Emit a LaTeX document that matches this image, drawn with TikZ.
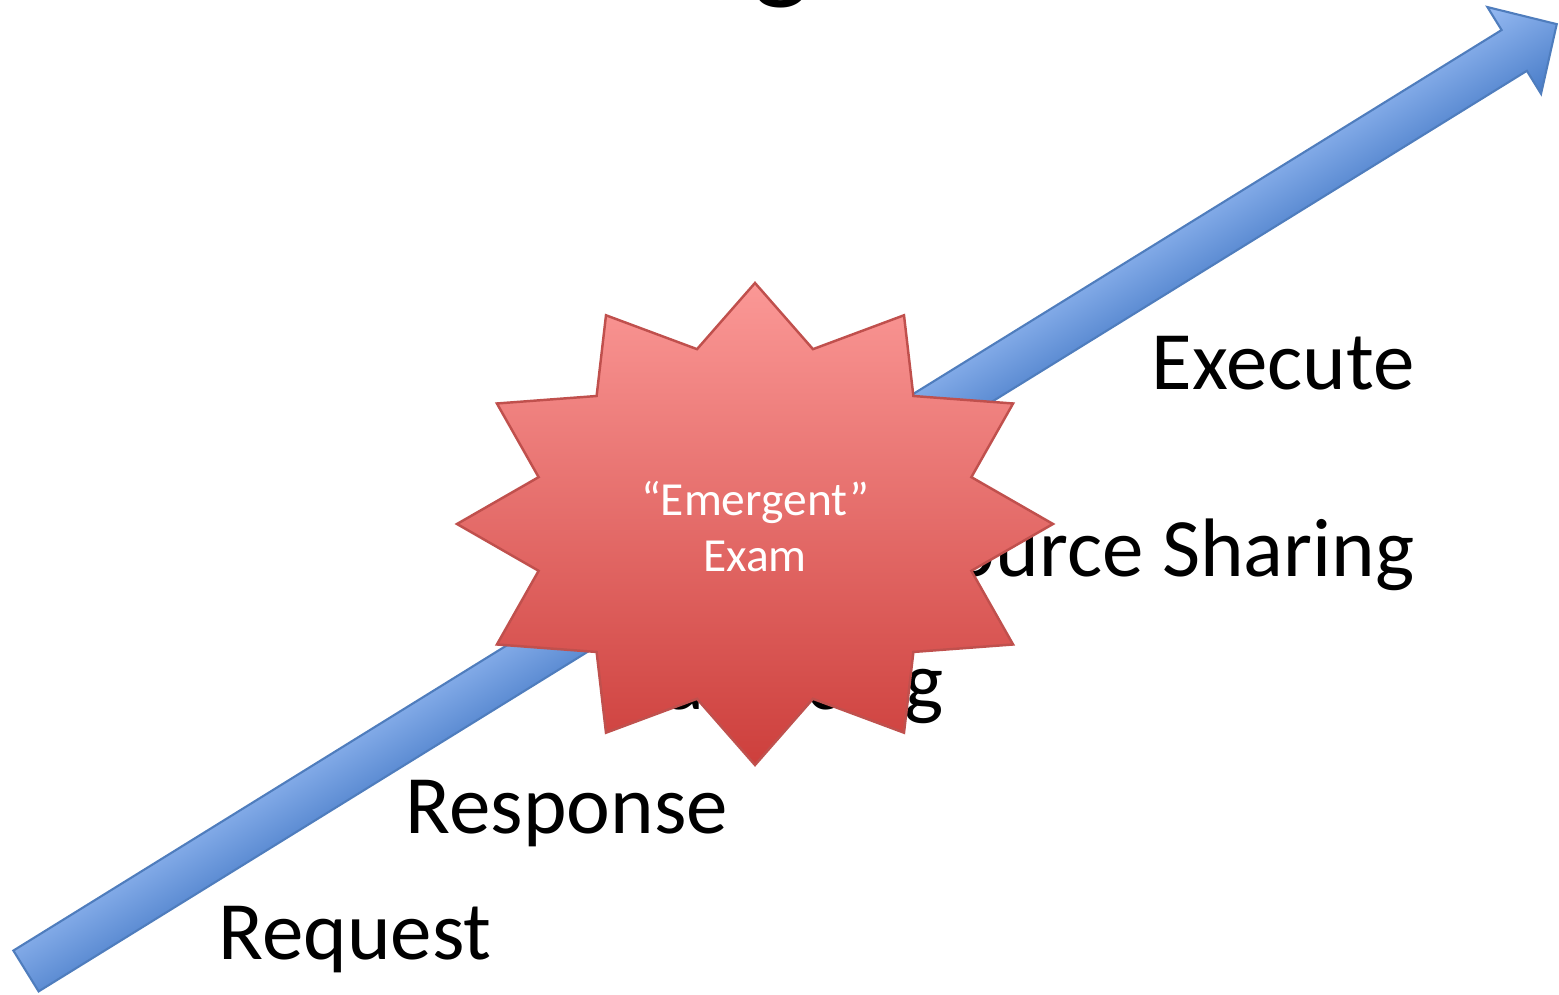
\documentclass[tikz,border=0pt]{standalone}
\usepackage{fontspec}
\setmainfont{Carlito}
\definecolor{arrowlight}{RGB}{150,186,242}
\definecolor{arrowdark}{RGB}{72,124,200}
\definecolor{arrowedge}{RGB}{79,125,189}
\definecolor{startop}{RGB}{251,152,150}
\definecolor{starbot}{RGB}{205,63,60}
\definecolor{staredge}{RGB}{192,80,77}
\begin{document}
\begin{tikzpicture}[x=0.01cm,y=-0.01cm,
  lbl/.style={font=\fontsize{23.6}{28}\selectfont, inner sep=0pt, text=black},
  titlelbl/.style={font=\fontsize{34}{40}\selectfont, inner sep=0pt, text=black},
  burst/.style={draw=staredge, line width=0.7pt, top color=startop, bottom color=starbot},
  bursttext/.style={font=\fontsize{13.5}{15.9}\selectfont, text=white, align=center, inner sep=0pt},
  bigarrow/.style={draw=arrowedge, line width=0.6pt, top color=arrowlight, bottom color=arrowdark}]
\useasboundingbox (0,0) rectangle (1559,995);
% cropped title (only a descender shows)
\node[titlelbl, anchor=base] (title) at (782,-12) {g};
% the big diagonal arrow
\begin{scope}[transform canvas={shift={(26,971)}, rotate=31.74}]
  \path[bigarrow] (0,-24) -- (1750,-24) -- (1750,-51) -- (1800,0) -- (1750,51) -- (1750,24) -- (0,24) -- cycle;
\end{scope}
% labels
\node[lbl, anchor=base west] (request) at (218,960) {Request};
\node[lbl, anchor=base west] (response) at (405,834) {Response};
\node[lbl, anchor=base east] (balancing) at (944,710) {Balancing};
\node[lbl, anchor=base east] (sharing) at (1415,577) {Resource Sharing};
\node[lbl, anchor=base east] (execute) at (1415,390) {Execute};
% starburst
\path[burst] plot[samples at={0,15,...,345}, variable=\t]
  ({755+ifthenelse(mod(\t,30)==0,298,224)*sin(\t)}, {524-ifthenelse(mod(\t,30)==0,241,181)*cos(\t)}) -- cycle;
\node[bursttext] (exam) at (755,527) {“Emergent”\\Exam};
\end{tikzpicture}
\end{document}
